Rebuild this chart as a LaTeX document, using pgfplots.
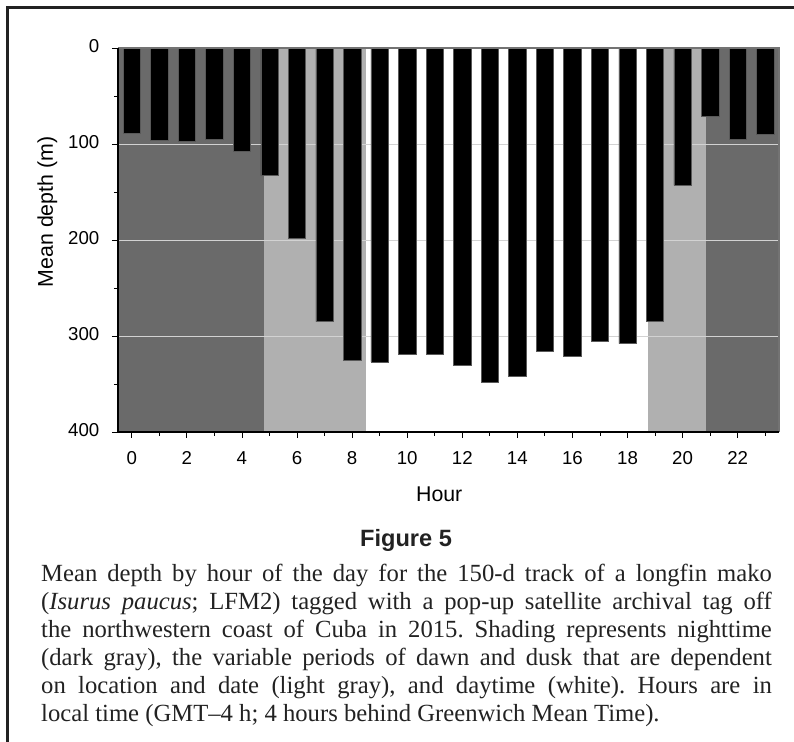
\documentclass[border=0pt]{standalone}
\usepackage{fontspec}
\setmainfont{Liberation Serif}
\setsansfont{Liberation Sans}
\usepackage{pgfplots}
\pgfplotsset{compat=1.18}

\definecolor{night}{HTML}{6A6A6A}
\definecolor{twilight}{HTML}{B0B0B0}
\definecolor{gridc}{HTML}{D2D2D2}
\definecolor{framec}{HTML}{222222}

% mean depth (m) by hour
\pgfplotstableread{
hour depth
0 89
1 96
2 97
3 95
4 108
5 133
6 198
7 285
8 325
9 327
10 319
11 319
12 331
13 348
14 342
15 316
16 321
17 305
18 308
19 285
20 143
21 71
22 95
23 90
}\depthdata

\begin{document}
\frenchspacing
\begin{tikzpicture}
\useasboundingbox (0pt,0pt) rectangle (595.5pt,-556.5pt);
% figure frame
\draw[framec, line width=1.9pt] (5.6pt,-556.5pt) -- (5.6pt,-5.6pt) -- (595.5pt,-5.6pt);

\begin{axis}[
    at={(88.5pt,-36pt)}, anchor=north west,
    scale only axis,
    width=495.75pt, height=288pt,
    xmin=-0.5, xmax=23.5,
    ymin=0, ymax=400,
    y dir=reverse,
    axis line style={draw=none},
    clip=false,
    font=\sffamily,
    /pgf/number format/assume math mode=true,
    xtick={0,2,...,22},
    minor xtick={1,3,...,23},
    ytick={0,100,...,400},
    minor ytick={50,150,...,350},
    xtick pos=left, ytick pos=left,
    tick align=outside,
    major tick length=4.5pt,
    minor tick length=3pt,
    tick style={black, line width=0.6pt},
    ticklabel style={font=\fontsize{14}{16}\sffamily},
    xticklabel style={yshift=-6.5pt},
    yticklabel style={xshift=-6pt, yshift=1.5pt},
    xlabel={Hour},
    ylabel={Mean depth (m)},
    label style={font=\fontsize{16}{18}\sffamily},
    xlabel style={at={(axis description cs:0.486,-0.161)}, anchor=center},
    ylabel style={at={(axis description cs:-0.107,0.573)}, anchor=center},
]
% shading: night, dawn, day, dusk, night
\addplot[fill=night, draw=none] coordinates {(-0.5,0) (4.8,0) (4.8,400) (-0.5,400)} -- cycle;
\addplot[fill=twilight, draw=none] coordinates {(4.8,0) (8.5,0) (8.5,400) (4.8,400)} -- cycle;
\addplot[fill=twilight, draw=none] coordinates {(18.75,0) (20.85,0) (20.85,400) (18.75,400)} -- cycle;
\addplot[fill=night, draw=none] coordinates {(20.85,0) (23.5,0) (23.5,400) (20.85,400)} -- cycle;
% grid lines
\addplot[gridc, line width=0.7pt] coordinates {(-0.5,100) (23.5,100)};
\addplot[gridc, line width=0.7pt] coordinates {(-0.5,200) (23.5,200)};
\addplot[gridc, line width=0.7pt] coordinates {(-0.5,300) (23.5,300)};
% bars
\addplot[ybar, bar width=0.63, fill=black, draw=black!65, line width=0.4pt] table[x=hour, y=depth] {\depthdata};
% axis frame
\draw[black!55, line width=0.8pt] (axis cs:-0.5,0) -- (axis cs:23.5,0) -- (axis cs:23.5,400);
\draw[black, line width=0.9pt] (axis cs:-0.5,0) -- (axis cs:-0.5,400) -- (axis cs:23.5,400);
\end{axis}

\node[anchor=base, inner sep=0pt, text=framec, font=\fontsize{17.7}{20}\sffamily\bfseries] at (304.5pt,-409.5pt) {Figure 5};
\node[anchor=north, inner sep=0pt, text width=548pt, align=justify, text=framec,
      font=\fontsize{18.5}{21}\selectfont] at (304.9pt,-423pt)
{\baselineskip=21pt Mean depth by hour of the day for the 150-d track of a longfin mako\linebreak
(\textit{Isurus paucus}; LFM2) tagged with a pop-up satellite archival tag off\linebreak
the northwestern coast of Cuba in 2015. Shading represents nighttime\linebreak
(dark gray), the variable periods of dawn and dusk that are dependent\linebreak
on location and date (light gray), and daytime (white). Hours are in\linebreak
local time (GMT–4 h; 4 hours behind Greenwich Mean Time).\par};
\end{tikzpicture}
\end{document}
